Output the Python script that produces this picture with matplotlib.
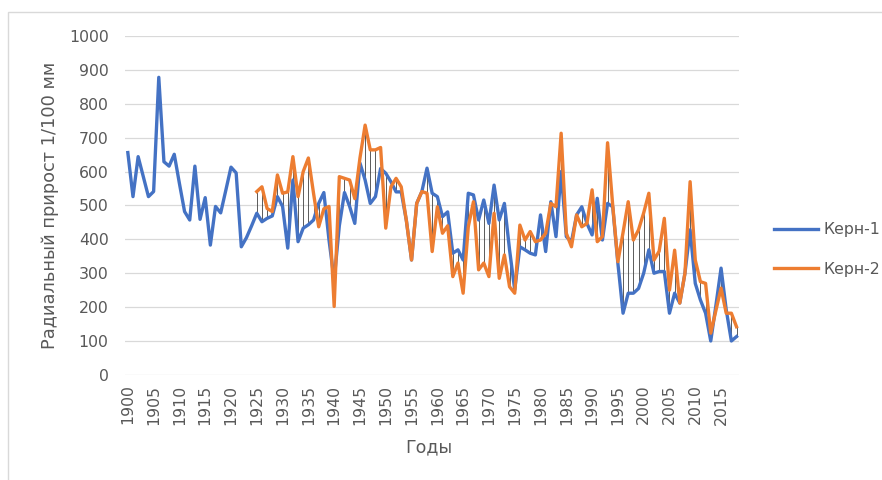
import matplotlib
matplotlib.use("Agg")
import matplotlib.pyplot as plt
import numpy as np

# годы и радиальный прирост (1/100 мм)
years1 = np.arange(1900, 2019)
kern1 = [656, 526, 644, 585, 526, 541, 878, 629, 616, 651,
         565, 482, 457, 616, 459, 523, 383, 497, 478, 545,
         613, 596, 378, 405, 440, 477, 452, 462, 469, 526,
         497, 374, 575, 393, 433, 443, 457, 506, 538, 398,
         280, 440, 538, 497, 447, 625, 575, 506, 526, 609,
         595, 570, 540, 540, 455, 339, 506, 541, 610, 536,
         526, 467, 481, 359, 369, 339, 536, 531, 457, 516,
         447, 560, 457, 506, 369, 251, 378, 369, 359, 354,
         472, 364, 511, 408, 600, 408, 393, 472, 496, 447,
         413, 521, 398, 506, 496, 329, 182, 241, 241, 255,
         300, 369, 300, 305, 305, 182, 241, 212, 300, 428,
         270, 221, 182, 100, 205, 315, 192, 100, 113]

years2 = np.arange(1925, 2019)
kern2 = [541, 555, 491, 482, 590,
         536, 540, 644, 526, 600, 640, 536, 437, 490, 497,
         202, 585, 580, 575, 520, 640, 737, 664, 664, 671,
         433, 555, 580, 555, 455, 339, 506, 541, 536, 364,
         496, 418, 440, 290, 330, 241, 437, 511, 310, 330,
         290, 477, 285, 354, 260, 241, 442, 398, 423, 393,
         398, 418, 506, 496, 713, 418, 378, 472, 437, 447,
         546, 393, 408, 685, 500, 334, 420, 511, 398, 428,
         478, 536, 339, 365, 462, 250, 368, 212, 300, 570,
         339, 275, 270, 123, 190, 256, 182, 182, 142]

x_ticks = np.arange(1900, 2016, 5)
y_ticks = np.arange(0, 1001, 100)

plt.rcParams['font.family'] = ['DejaVu Sans']
text_color = '#595959'

fig = plt.figure(figsize=(8.82, 4.8), dpi=100)
ax = fig.add_axes([0.142, 0.219, 0.696, 0.706])

# рамка области диаграммы
fig.patches.append(plt.Rectangle((8 / 882, -0.01), 1.0, 1 - 12 / 480 + 0.01,
                                 transform=fig.transFigure, fill=False,
                                 edgecolor='#D9D9D9', lw=1.0))

# линии максимума-минимума между кернами
k1_common = np.array(kern1)[years1 >= years2[0]]
k2 = np.array(kern2)
ax.vlines(years2, np.minimum(k1_common, k2), np.maximum(k1_common, k2),
          color='#404040', lw=0.6, zorder=2)

ax.plot(years1, kern1, color='#4472C4', lw=2.4, label='Керн-1', zorder=3,
        solid_joinstyle='round')
ax.plot(years2, kern2, color='#ED7D31', lw=2.4, label='Керн-2', zorder=4,
        solid_joinstyle='round')

ax.set_xlim(1899.5, 2018.5)
ax.set_ylim(0, 1000)
ax.set_yticks(y_ticks)
ax.set_xticks(x_ticks)
ax.set_xticklabels([str(y) for y in x_ticks], rotation=90)
ax.tick_params(axis='both', length=0, labelsize=11.3, colors=text_color)
ax.tick_params(axis='y', pad=12)
ax.tick_params(axis='x', pad=7)
ax.grid(axis='y', color='#D9D9D9', lw=0.9)
ax.set_axisbelow(True)
for s in ax.spines.values():
    s.set_visible(False)

ax.set_ylabel('Радиальный прирост 1/100 мм', fontsize=12.8, color=text_color)
ax.yaxis.set_label_coords(-0.108, 0.5)
ax.set_xlabel('Годы', fontsize=12.5, color=text_color)
ax.xaxis.set_label_coords(0.495, -0.187)

leg = fig.legend(loc='center left', bbox_to_anchor=(0.862, 0.48),
                 frameon=False, fontsize=11.3, labelspacing=1.55,
                 handlelength=2.8, handletextpad=0.3)
for t in leg.get_texts():
    t.set_color(text_color)

fig.savefig('out.png', dpi=100)
